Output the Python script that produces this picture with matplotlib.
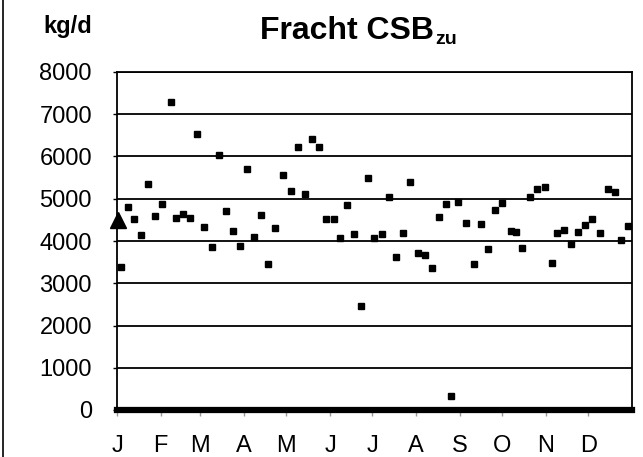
import matplotlib
matplotlib.use("Agg")
import matplotlib.pyplot as plt
from matplotlib.lines import Line2D

plt.rcParams["font.family"] = ["Liberation Sans", "DejaVu Sans"]

# daily load samples (day of year, kg/d)
days = [3, 8, 12, 17, 22, 27, 32, 38, 42, 47, 52, 57, 62, 67, 72, 77, 82, 87,
        92, 97, 102, 107, 112, 118, 123, 128, 133, 138, 143, 148, 154, 158, 163,
        168, 173, 178, 182, 188, 193, 198, 203, 208, 213, 218, 223, 228, 233,
        237, 242, 247, 253, 258, 263, 268, 273, 279, 283, 287, 293, 298, 303,
        308, 312, 317, 322, 327, 332, 337, 342, 348, 353, 357, 362]
load = [3390, 4810, 4510, 4140, 5360, 4590, 4880, 7300, 4550, 4640, 4540,
        6530, 4320, 3850, 6040, 4720, 4240, 3880, 5700, 4090, 4620, 3460,
        4300, 5570, 5190, 6230, 5110, 6410, 6230, 4510, 4510, 4080, 4850,
        4160, 2450, 5480, 4080, 4160, 5050, 3610, 4200, 5390, 3720, 3660,
        3350, 4560, 4880, 330, 4930, 4430, 3460, 4400, 3810, 4730, 4890,
        4240, 4220, 3840, 5030, 5220, 5280, 3470, 4200, 4260, 3920, 4220,
        4370, 4510, 4190, 5240, 5160, 4030, 4350]

# reference value at start of year
ref_day = [1]
ref_load = [4500]

month_start = [0, 31, 59, 90, 120, 151, 181, 212, 243, 273, 304, 334]
month_labels = ["J", "F", "M", "A", "M", "J", "J", "A", "S", "O", "N", "D"]
y_ticks = [0, 1000, 2000, 3000, 4000, 5000, 6000, 7000, 8000]

W, H = 643, 457
fig = plt.figure(figsize=(W / 100, H / 100), dpi=100)
fig.patch.set_facecolor("white")

ax = fig.add_axes([117 / W, 1 - 410 / H, (632 - 117) / W, (410 - 72) / H])

ax.plot(days, load, ls="none", marker="s", ms=4.8, mfc="black", mec="black",
        zorder=3, clip_on=False)
ax.plot(ref_day, ref_load, ls="none", marker="^", ms=11, color="black",
        zorder=3, clip_on=False)

ax.set_xlim(0, 365)
ax.set_ylim(0, 8000)
ax.set_yticks(y_ticks)
ax.set_yticklabels([str(v) for v in y_ticks])
ax.set_xticks(month_start)
ax.set_xticklabels(month_labels)

ax.yaxis.grid(True, color="black", lw=1.3)
ax.set_axisbelow(True)

for side in ["top", "right", "left"]:
    ax.spines[side].set_linewidth(1.3)
ax.spines["bottom"].set_linewidth(4.5)  # thick zero line
ax.spines["bottom"].set_capstyle("projecting")

ax.tick_params(axis="y", length=3, width=1, pad=15, labelsize=17)
ax.tick_params(axis="x", length=4, width=1, color="#999999", pad=14,
               labelsize=17)

title = fig.text(260 / W, 1 - 39 / H, "Fracht CSB", fontsize=23,
                 fontweight="bold", ha="left", va="baseline")
fig.text(43 / W, 1 - 33 / H, "kg/d", fontsize=17, fontweight="bold",
         ha="left", va="baseline")

# subscript placed right after the title
fig.canvas.draw()
bb = title.get_window_extent()
fig.text((bb.x1 + 1) / W, 1 - 44 / H, "zu", fontsize=14, fontweight="bold",
         ha="left", va="baseline")

# left frame edge of the original figure
fig.add_artist(Line2D([3 / W, 3 / W], [0, 1], color="black", lw=1.2))

fig.savefig("out.png", dpi=100, facecolor="white")
